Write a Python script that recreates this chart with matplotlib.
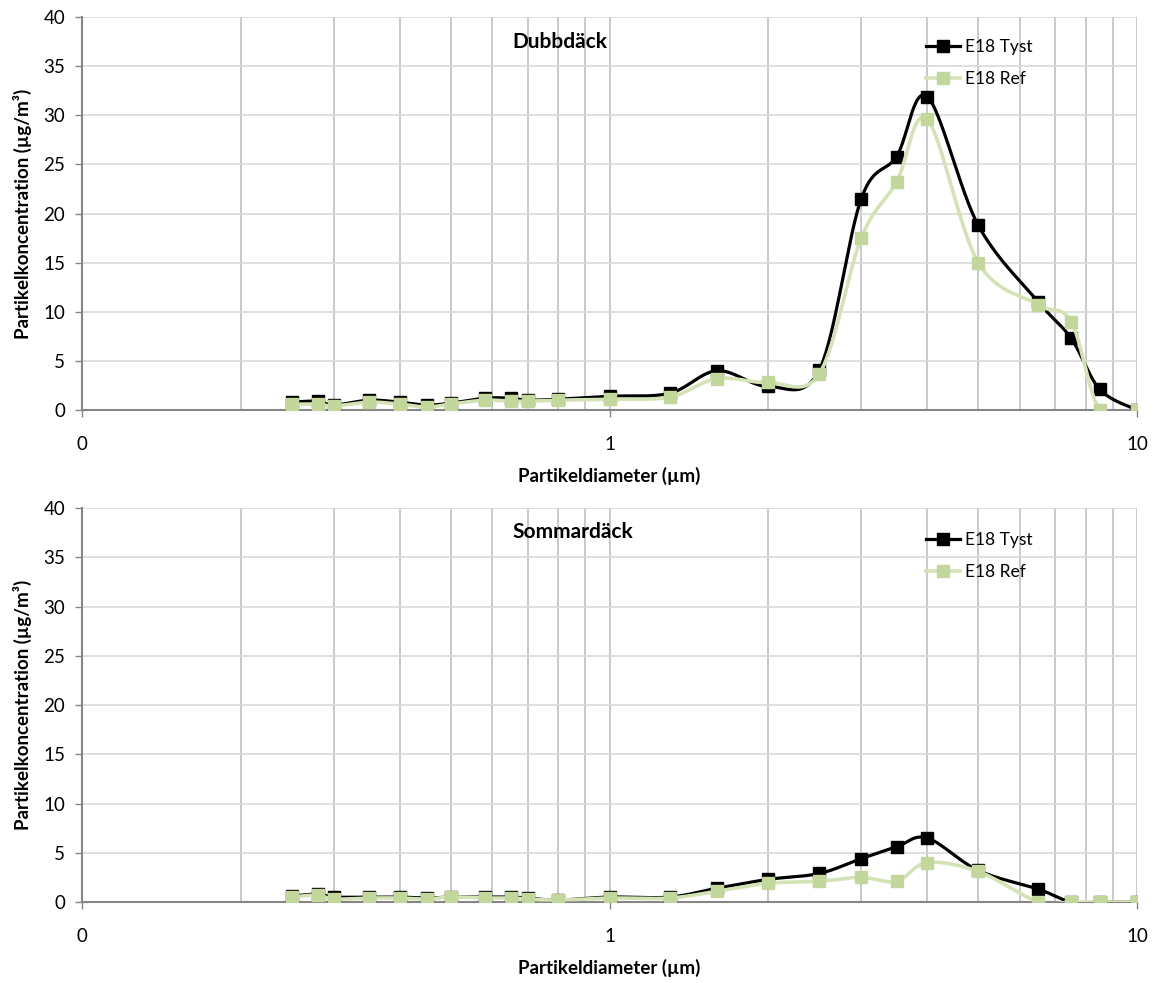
import numpy as np
import matplotlib
matplotlib.use('Agg')
import matplotlib.pyplot as plt
from matplotlib.ticker import FixedLocator, FixedFormatter, NullFormatter

plt.rcParams['font.family'] = ['Lato', 'DejaVu Sans']

# partikeldiameter (µm), kanaler
diam = [0.25, 0.28, 0.30, 0.35, 0.40, 0.45, 0.50, 0.58, 0.65, 0.70, 0.80,
        1.0, 1.3, 1.6, 2.0, 2.5, 3.0, 3.5, 4.0, 5.0, 6.5, 7.5, 8.5, 10]

dubb_tyst = [0.8, 0.9, 0.5, 1.0, 0.8, 0.5, 0.7, 1.2, 1.2, 1.0, 1.1, 1.4,
             1.7, 4.0, 2.4, 4.1, 21.5, 25.8, 31.9, 18.8, 11.0, 7.3, 2.1, 0.0]
dubb_ref = [0.6, 0.6, 0.4, 0.8, 0.6, 0.3, 0.6, 1.0, 0.9, 0.9, 1.0, 1.1,
            1.3, 3.2, 2.8, 3.7, 17.5, 23.2, 29.6, 15.0, 10.7, 9.0, 0.0, 0.0]

sommar_tyst = [0.6, 0.8, 0.5, 0.5, 0.5, 0.4, 0.5, 0.5, 0.5, 0.4, 0.2, 0.5,
               0.5, 1.4, 2.3, 2.9, 4.4, 5.6, 6.5, 3.2, 1.3, 0.0, 0.0, 0.0]
sommar_ref = [0.5, 0.7, 0.3, 0.4, 0.4, 0.3, 0.5, 0.4, 0.4, 0.3, 0.2, 0.4,
              0.4, 1.1, 1.9, 2.1, 2.5, 2.1, 4.0, 3.1, 0.0, 0.0, 0.0, 0.0]

series_names = ['E18 Tyst', 'E18 Ref']
titles = ['Dubbdäck', 'Sommardäck']


def smooth(x, y, n=30):
    # Excel-liknande utjämnad linje (Bezier / Catmull-Rom) i log-x
    u = np.log10(np.array(x, dtype=float))
    v = np.array(y, dtype=float)
    P = np.column_stack([u, v])
    P = np.vstack([P[0], P, P[-1]])
    t = np.linspace(0, 1, n)[:, None]
    out = []
    for i in range(1, len(P) - 2):
        p0, p3 = P[i], P[i + 1]
        c1 = p0 + (P[i + 1] - P[i - 1]) / 6
        c2 = p3 - (P[i + 2] - P[i]) / 6
        b = ((1 - t) ** 3) * p0 + 3 * ((1 - t) ** 2) * t * c1 + 3 * (1 - t) * t ** 2 * c2 + t ** 3 * p3
        out.append(b)
    out = np.vstack(out)
    return 10 ** out[:, 0], out[:, 1]


fig = plt.figure(figsize=(11.58, 9.83), dpi=100)
ax1 = fig.add_axes([0.0708, 0.5829, 0.9111, 0.3998])
ax2 = fig.add_axes([0.0708, 0.0824, 0.9111, 0.4008])

black = '#000000'
green_m = '#c3d69b'
green_l = '#d4e3b5'

data = [(dubb_tyst, dubb_ref), (sommar_tyst, sommar_ref)]
title_y = [0.936, 0.938]
leg_y = [0.975, 0.97]

for ax, (tyst, ref), title, ty, ly in zip([ax1, ax2], data, titles, title_y, leg_y):
    # serie 1 (svart) först, serie 2 (grön) ovanpå - som i Excel
    sx, sy = smooth(diam, tyst)
    ax.plot(sx, sy, color=black, lw=2.3, zorder=3, solid_capstyle='round')
    ax.plot(diam, tyst, ls='none', marker='s', ms=8, color=black, zorder=4)
    sx, sy = smooth(diam, ref)
    ax.plot(sx, sy, color=green_l, lw=2.6, zorder=5, solid_capstyle='round')
    ax.plot(diam, ref, ls='none', marker='s', ms=8, color=green_m, zorder=6)

    # legend handles
    h1, = ax.plot([], [], color=black, lw=2.3, marker='s', ms=8)
    h2, = ax.plot([], [], color=green_l, lw=2.6, marker='s', ms=8, mfc=green_m, mec=green_m)
    ax.legend([h1, h2], series_names, loc='upper left', bbox_to_anchor=(0.788, ly),
              frameon=False, fontsize=12.5, handlelength=2.0, labelspacing=0.95,
              handletextpad=0.25, borderaxespad=0.3)

    ax.set_xscale('log')
    ax.set_xlim(0.1, 10)
    ax.set_ylim(0, 40)
    ax.set_yticks(range(0, 41, 5))
    ax.xaxis.set_major_locator(FixedLocator([0.1, 1, 10]))
    ax.xaxis.set_major_formatter(FixedFormatter(['0', '1', '10']))
    minors = [m * d for d in [0.1, 1] for m in range(2, 10)]
    ax.xaxis.set_minor_locator(FixedLocator(minors))
    ax.xaxis.set_minor_formatter(NullFormatter())

    ax.grid(True, axis='y', color='#d9d9d9', lw=1.2, zorder=0)
    ax.grid(True, axis='x', which='both', color='#c0c0c0', lw=1.2, zorder=0)
    ax.set_axisbelow(True)

    for s in ['top', 'right']:
        ax.spines[s].set_visible(False)
    for s in ['left', 'bottom']:
        ax.spines[s].set_color('#868686')
        ax.spines[s].set_linewidth(1.5)

    ax.tick_params(axis='x', which='major', length=5, width=1, color='#868686',
                   pad=14, labelsize=13.5)
    ax.tick_params(axis='x', which='minor', length=0)
    ax.tick_params(axis='y', length=5, width=1, color='#868686', pad=7, labelsize=13.5)

    ax.set_xlabel('Partikeldiameter (µm)', fontsize=13.5, fontweight='bold', labelpad=10)
    ax.set_ylabel('Partikelkoncentration (µg/m³)', fontsize=13.5, fontweight='bold', labelpad=8)
    ax.text(0.4076, ty, title, transform=ax.transAxes, fontsize=15,
            fontweight='bold', va='center', ha='left')

fig.savefig('out.png', dpi=100)
